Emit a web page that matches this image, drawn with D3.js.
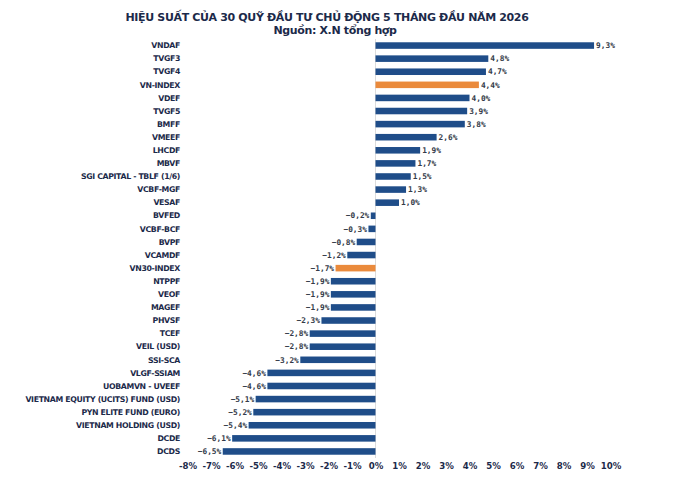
<!DOCTYPE html>
<html>
<head>
<meta charset="utf-8">
<script src="https://cdn.jsdelivr.net/npm/d3@7"></script>
<style>
  body { margin: 0; background: #fff; }
  svg text { font-family: "DejaVu Sans", Verdana, sans-serif; }
  .title { font-weight: bold; fill: #1c2a4a; letter-spacing: -0.35px; }
  .cat { font-weight: bold; fill: #1c2a4a; font-size: 7.8px; letter-spacing: -0.35px; }
  .val { font-family: "DejaVu Sans Mono", monospace; font-weight: bold; fill: #333a48; font-size: 7.8px; }
  .tick text { font-weight: bold; fill: #1c2a4a; font-size: 8.6px; }
</style>
</head>
<body>
<svg id="chart" width="690" height="481"></svg>
<script>
// data
const funds = ['VNDAF', 'TVGF3', 'TVGF4', 'VN-INDEX', 'VDEF', 'TVGF5', 'BMFF', 'VMEEF', 'LHCDF', 'MBVF',
  'SGI CAPITAL - TBLF (1/6)', 'VCBF-MGF', 'VESAF', 'BVFED', 'VCBF-BCF', 'BVPF', 'VCAMDF', 'VN30-INDEX',
  'NTPPF', 'VEOF', 'MAGEF', 'PHVSF', 'TCEF', 'VEIL (USD)', 'SSI-SCA', 'VLGF-SSIAM', 'UOBAMVN - UVEEF',
  'VIETNAM EQUITY (UCITS) FUND (USD)', 'PYN ELITE FUND (EURO)', 'VIETNAM HOLDING (USD)', 'DCDE', 'DCDS']
const returns = [9.3, 4.8, 4.7, 4.4, 4.0, 3.9, 3.8, 2.6, 1.9, 1.7,
  1.5, 1.3, 1.0, -0.2, -0.3, -0.8, -1.2, -1.7,
  -1.9, -1.9, -1.9, -2.3, -2.8, -2.8, -3.2, -4.6, -4.6,
  -5.1, -5.2, -5.4, -6.1, -6.5]
const indexes = ['VN-INDEX', 'VN30-INDEX']
const xTicks = [-8, -7, -6, -5, -4, -3, -2, -1, 0, 1, 2, 3, 4, 5, 6, 7, 8, 9, 10]

const data = funds.map((d, i) => ({ name: d, value: returns[i] }))

const svg = d3.select('#chart')
const width = 690, height = 481

const c1 = '#1f4d89'
const c2 = '#ea8a3c'

// scales
const x = d3.scaleLinear()
  .domain([-8, 10])
  .range([187.5, 610.5])

const y = d3.scaleBand()
  .domain(funds)
  .range([39, 458])
  .paddingInner(0.5)
  .paddingOuter(0.25)

// title
svg.append('text')
  .attr('class', 'title')
  .attr('x', 327)
  .attr('y', 20.5)
  .attr('text-anchor', 'middle')
  .style('font-size', '11px')
  .text('HIỆU SUẤT CỦA 30 QUỸ ĐẦU TƯ CHỦ ĐỘNG 5 THÁNG ĐẦU NĂM 2026')

svg.append('text')
  .attr('class', 'title')
  .attr('x', 335)
  .attr('y', 34)
  .attr('text-anchor', 'middle')
  .style('font-size', '11px')
  .text('Nguồn: X.N tổng hợp')

// zero line
svg.append('line')
  .attr('x1', x(0)).attr('x2', x(0))
  .attr('y1', 39).attr('y2', 458)
  .attr('stroke', '#dcdcdc')
  .attr('stroke-width', 1)

// bars
svg.selectAll('.bar').data(data)
  .join('rect')
  .attr('class', 'bar')
  .attr('x', d => x(Math.min(0, d.value)))
  .attr('width', d => Math.abs(x(d.value) - x(0)))
  .attr('y', d => y(d.name))
  .attr('height', y.bandwidth())
  .attr('fill', d => indexes.includes(d.name) ? c2 : c1)

// value labels
const fmt = v => d3.format('.1f')(v).replace('.', ',').replace('-', '−') + '%'
svg.selectAll('.val').data(data)
  .join('text')
  .attr('class', 'val')
  .attr('x', d => d.value >= 0 ? x(d.value) + 2 : x(d.value) - 1.5)
  .attr('y', d => y(d.name) + y.bandwidth() / 2)
  .attr('dy', '0.35em')
  .attr('text-anchor', d => d.value >= 0 ? 'start' : 'end')
  .text(d => fmt(d.value))

// category labels
svg.selectAll('.cat').data(data)
  .join('text')
  .attr('class', 'cat')
  .attr('x', 180)
  .attr('y', d => y(d.name) + y.bandwidth() / 2)
  .attr('dy', '0.35em')
  .attr('text-anchor', 'end')
  .text(d => d.name)

// x axis
const xAxis = d3.axisBottom(x)
  .tickValues(xTicks)
  .tickFormat(d => d + '%')
  .tickSize(0)
  .tickPadding(0)

svg.append('g')
  .attr('transform', 'translate(0, 463)')
  .call(xAxis)
  .call(g => g.select('.domain').remove())
</script>
</body>
</html>
